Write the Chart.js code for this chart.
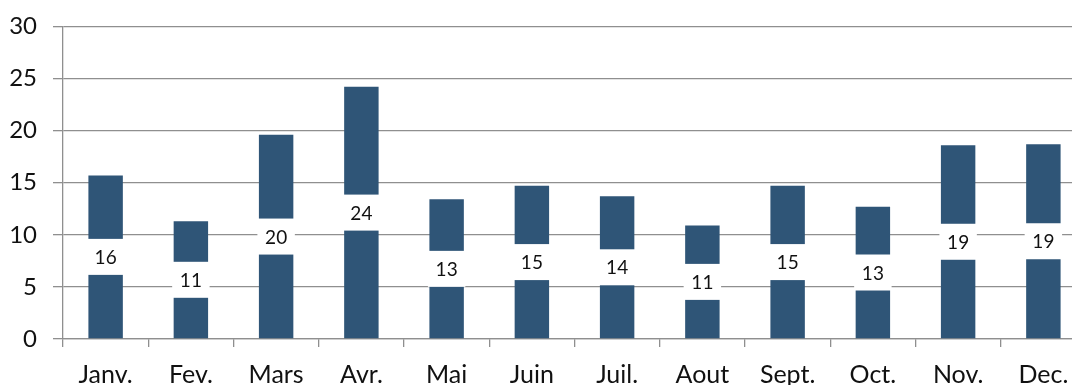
<!DOCTYPE html>
<html>
<head>
<meta charset="utf-8">
<script src="https://cdn.jsdelivr.net/npm/chart.js@4"></script>
<style>
    html, body { margin: 0; padding: 0; background: #fff; }
    #wrap { width: 1072px; height: 385px; overflow: hidden; position: relative; }
    canvas { display: block; margin-top: -4px; }
</style>
</head>
<body>
<div id="wrap">
    <canvas id="monthChart" width="1086" height="400"></canvas>
</div>
<script>
const months = ['Janv.', 'Fev.', 'Mars', 'Avr.', 'Mai', 'Juin', 'Juil.', 'Aout', 'Sept.', 'Oct.', 'Nov.', 'Dec.'];
const values = [15.7, 11.3, 19.6, 24.2, 13.4, 14.7, 13.7, 10.9, 14.7, 12.7, 18.6, 18.7];
const yTicks = [0, 5, 10, 15, 20, 25, 30];

const gridColor = '#8f8f8f';
const barColor = '#2f5577';

// value label in a white box, centred on each bar
const boxLabels = {
    id: 'boxLabels',
    afterDatasetsDraw(chart) {
        const ctx = chart.ctx;
        const meta = chart.getDatasetMeta(0);
        ctx.save();
        ctx.font = '19px Lato';
        ctx.textAlign = 'center';
        ctx.textBaseline = 'middle';
        meta.data.forEach((bar, i) => {
            const cy = (bar.y + bar.base) / 2;
            const w = bar.width + 3;
            const h = 36;
            ctx.fillStyle = '#ffffff';
            ctx.fillRect(bar.x - w / 2, cy - h / 2, w, h);
            ctx.fillStyle = '#111';
            ctx.fillText(String(Math.round(chart.data.datasets[0].data[i])), bar.x, cy + 1);
        });
        ctx.restore();
    }
};

new Chart(document.getElementById('monthChart').getContext('2d'), {
    type: 'bar',
    data: {
        labels: months,
        datasets: [{
            data: values,
            backgroundColor: barColor,
            borderWidth: 0,
            categoryPercentage: 1,
            barPercentage: 0.404
        }]
    },
    options: {
        responsive: false,
        animation: false,
        layout: { padding: { top: 22, right: 0, left: 0, bottom: 0 } },
        plugins: {
            legend: { display: false },
            tooltip: { enabled: false }
        },
        scales: {
            x: {
                afterFit: (scale) => { scale.height = 57; },
                grid: {
                    drawOnChartArea: false,
                    drawTicks: true,
                    tickLength: 8,
                    color: gridColor,
                    lineWidth: 1.3
                },
                border: { display: true, color: gridColor, width: 1.3 },
                ticks: {
                    font: { family: 'Lato', size: 25 },
                    color: '#111',
                    padding: 13,
                    maxRotation: 0,
                    autoSkip: false
                }
            },
            y: {
                min: 0,
                max: 30,
                afterFit: (scale) => { scale.width = 63; },
                afterBuildTicks: (scale) => { scale.ticks = yTicks.map(v => ({ value: v })); },
                grid: {
                    color: gridColor,
                    lineWidth: 1.3,
                    tickLength: 10
                },
                border: { display: true, color: gridColor, width: 1.3 },
                ticks: {
                    font: { family: 'Lato', size: 24 },
                    color: '#111',
                    padding: 16
                }
            }
        }
    },
    plugins: [boxLabels]
});
</script>
</body>
</html>
